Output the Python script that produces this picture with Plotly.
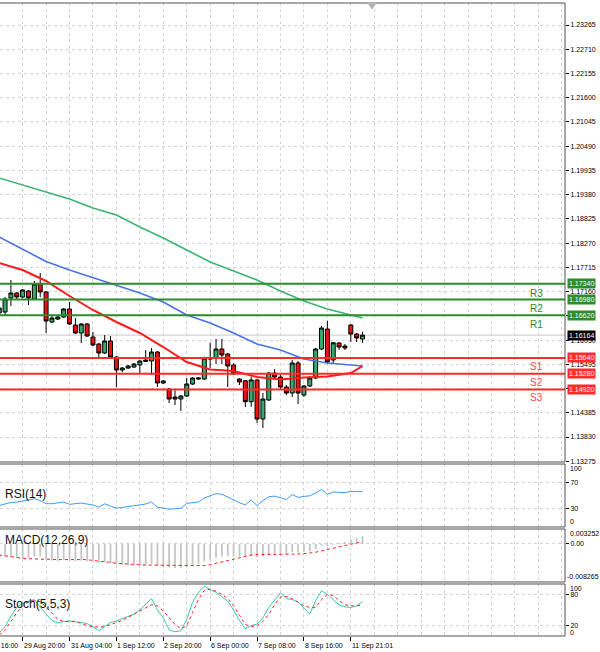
import plotly.graph_objects as go

# ---------------- data ----------------
idx = list(range(63))
opens = [1.16670, 1.16693, 1.17013, 1.17128, 1.17036, 1.17174, 1.16990, 1.17334, 1.17151, 1.16464,
         1.16532, 1.16578, 1.16761, 1.16395, 1.16212, 1.16418, 1.16120, 1.15960, 1.15754, 1.16029,
         1.15662, 1.15365, 1.15410, 1.15433, 1.15479, 1.15560, 1.15571, 1.15777, 1.15067, 1.14929,
         1.14746, 1.14700, 1.14769, 1.15044, 1.15158, 1.15158, 1.15616, 1.15639, 1.15845, 1.15731,
         1.15479, 1.15158, 1.15120, 1.14639, 1.15136, 1.14242, 1.14678, 1.15296, 1.15204, 1.14975,
         1.14838, 1.15525, 1.14792, 1.14998, 1.15181, 1.15845, 1.16303, 1.15594, 1.15983, 1.15914,
         1.16395, 1.16189, 1.16074]
highs = [1.16968, 1.17036, 1.17426, 1.17151, 1.17219, 1.17197, 1.17403, 1.17586, 1.17174, 1.16601,
         1.16601, 1.16784, 1.16922, 1.16555, 1.16441, 1.16441, 1.16235, 1.15983, 1.16166, 1.16143,
         1.15685, 1.15433, 1.15479, 1.15525, 1.15594, 1.15823, 1.15868, 1.15800, 1.15136, 1.14952,
         1.14907, 1.14792, 1.15181, 1.15204, 1.15204, 1.15669, 1.15990, 1.16074, 1.16074, 1.15754,
         1.15525, 1.15181, 1.15136, 1.15211, 1.15158, 1.14838, 1.15319, 1.15387, 1.15250, 1.15021,
         1.15594, 1.15571, 1.15021, 1.15227, 1.15868, 1.16372, 1.16495, 1.16006, 1.16006, 1.15960,
         1.16418, 1.16212, 1.16242]
lows = [1.16555, 1.16624, 1.16830, 1.16990, 1.17013, 1.16853, 1.16968, 1.17036, 1.16212, 1.16441,
        1.16510, 1.16555, 1.16395, 1.16189, 1.15983, 1.16120, 1.15914, 1.15662, 1.15731, 1.15639,
        1.14975, 1.15319, 1.15387, 1.15410, 1.15296, 1.15548, 1.15250, 1.14975, 1.15044, 1.14609,
        1.14563, 1.14426, 1.14746, 1.15021, 1.15136, 1.15136, 1.15410, 1.15502, 1.15502, 1.14975,
        1.15250, 1.15021, 1.14517, 1.14524, 1.14151, 1.14036, 1.14655, 1.15158, 1.14907, 1.14792,
        1.14746, 1.14586, 1.14746, 1.14975, 1.15158, 1.15823, 1.15502, 1.15502, 1.15823, 1.15823,
        1.16006, 1.16006, 1.15983]
closes = [1.16784, 1.16990, 1.17128, 1.17036, 1.17197, 1.17013, 1.17334, 1.17151, 1.16487, 1.16555,
          1.16578, 1.16761, 1.16418, 1.16212, 1.16418, 1.16143, 1.15937, 1.15754, 1.16029, 1.15662,
          1.15365, 1.15410, 1.15456, 1.15502, 1.15571, 1.15594, 1.15777, 1.15067, 1.15113, 1.14700,
          1.14700, 1.14769, 1.15044, 1.15181, 1.15181, 1.15639, 1.15639, 1.15845, 1.15708, 1.15456,
          1.15273, 1.15090, 1.14639, 1.15136, 1.14242, 1.14700, 1.15296, 1.15204, 1.14975, 1.14838,
          1.15525, 1.14838, 1.14998, 1.15181, 1.15845, 1.16326, 1.15548, 1.15989, 1.15891, 1.15868,
          1.16189, 1.16097, 1.16164]

ma_idx = [0, 4, 8, 12, 16, 20, 24, 28, 32, 36, 40, 44, 48, 52, 56, 60, 62]
ma_slow = [1.19761, 1.19601, 1.19452, 1.19280, 1.19074, 1.18914, 1.18639, 1.18387, 1.18113,
           1.17838, 1.17632, 1.17426, 1.17174, 1.16945, 1.16761, 1.16624, 1.16555]
ma_mid = [1.18410, 1.18135, 1.17849, 1.17655, 1.17483, 1.17311, 1.17128, 1.16922, 1.16624,
          1.16441, 1.16212, 1.15960, 1.15823, 1.15616, 1.15525, 1.15479, 1.15456]
ma_fast = [1.17815, 1.17655, 1.17403, 1.17059, 1.16739, 1.16464, 1.16212, 1.15891, 1.15548,
           1.15376, 1.15342, 1.15204, 1.15147, 1.15193, 1.15216, 1.15296, 1.15456]

rsi = [34, 37, 39, 39.5, 41, 43, 45, 42, 37, 37, 38, 39.7, 36, 37, 38, 36.5, 35, 31.5, 36.9, 33,
       30, 31, 32.5, 33.5, 34.5, 36.5, 39.7, 31.5, 30, 28.3, 29, 29.6, 37.5, 38.8, 39.6, 46, 50, 53,
       52, 47.5, 42.6, 38.5, 35, 43, 34, 42, 48, 49, 46.5, 43.5, 51.5, 47, 48.5, 49.5, 54, 59.5, 52,
       55.5, 55, 54.5, 56.5, 56.5, 56]

macd_main = [-0.0025, -0.0028, -0.0030, -0.0031, -0.0031, -0.0030, -0.0027, -0.0027, -0.0033, -0.0036,
             -0.0037, -0.0035, -0.0036, -0.0037, -0.0036, -0.0037, -0.0038, -0.0041, -0.0040, -0.0042,
             -0.0045, -0.0046, -0.0047, -0.0047, -0.0046, -0.0046, -0.0044, -0.0048, -0.0050, -0.0051,
             -0.0052, -0.0052, -0.0050, -0.0046, -0.0043, -0.0038, -0.0034, -0.0030, -0.0027, -0.0027,
             -0.0027, -0.0027, -0.0028, -0.0027, -0.0029, -0.0027, -0.0023, -0.0021, -0.0021, -0.0022,
             -0.0018, -0.0019, -0.0018, -0.0016, -0.0011, -0.0004, -0.0005, -0.0002, 0.0002, 0.0004,
             0.0010, 0.0013, 0.0017]
macd_signal = [-0.0024, -0.0026, -0.0028, -0.0030, -0.0031, -0.0032, -0.0033, -0.0033, -0.0033, -0.0034,
               -0.0034, -0.0034, -0.0034, -0.0034, -0.0034, -0.0034, -0.0036, -0.0037, -0.0039, -0.0040,
               -0.0042, -0.0043, -0.0044, -0.0045, -0.0045, -0.0046, -0.0046, -0.0046, -0.0047, -0.0047,
               -0.0047, -0.0047, -0.0047, -0.0047, -0.0047, -0.0047, -0.0045, -0.0042, -0.0039, -0.0036,
               -0.0032, -0.0029, -0.0026, -0.0024, -0.0023, -0.0023, -0.0023, -0.0022, -0.0022, -0.0022,
               -0.0022, -0.0022, -0.0021, -0.0020, -0.0018, -0.0015, -0.0012, -0.0009, -0.0006, -0.0003,
               0.0000, 0.0003, 0.0005]
macd_max = 0.003252
macd_min = -0.008265

stoch_k = [6, 18, 38, 55, 63, 67, 70, 55, 42, 30, 25, 28, 29, 28, 26, 24, 18, 10, 18, 26,
           29, 33, 38, 42, 50, 62, 72, 50, 35, 12, 8, 10, 32, 65, 84, 96, 89, 84, 76, 67,
           50, 30, 14, 20, 23, 35, 55, 70, 83, 72, 70, 65, 54, 42, 68, 87, 80, 70, 60, 56,
           55, 58, 66]
stoch_d = [2, 12, 28, 45, 58, 66, 68, 66, 56, 44, 32, 28, 28, 28, 24, 20, 18, 17, 18, 22,
           25, 30, 36, 42, 48, 54, 60, 58, 48, 35, 22, 14, 20, 45, 70, 88, 90, 86, 80, 72,
           58, 40, 22, 18, 20, 28, 42, 60, 75, 76, 72, 65, 58, 55, 55, 70, 80, 78, 68, 60,
           58, 58, 60]

price_ticks = [1.13275, 1.13830, 1.14385, 1.14940, 1.15495, 1.16050, 1.16605, 1.17160, 1.17715,
               1.18270, 1.18825, 1.19380, 1.19935, 1.20490, 1.21045, 1.21600, 1.22155, 1.22710, 1.23265]
price_tick_text = ["1.13275", "1.13830", "1.14385", "", "1.15495", "1.16050", "", "1.17160", "1.17715",
                   "1.18270", "1.18825", "1.19380", "1.19935", "1.20490", "1.21045", "1.21600", "1.22155",
                   "1.22710", "1.23265"]

level_names = ["R3", "R2", "R1", "S1", "S2", "S3"]
level_values = [1.17340, 1.16980, 1.16620, 1.15640, 1.15280, 1.14920]
last_price = 1.16164

time_idx = [-4, 4, 12, 20, 28, 36, 44, 52, 60]
time_labels = ["28 Aug 16:00", "29 Aug 20:00", "31 Aug 04:00", "1 Sep 12:00", "2 Sep 20:00",
               "6 Sep 00:00", "7 Sep 08:00", "8 Sep 16:00", "11 Sep 21:01"]

# ---------------- style ----------------
FONT = "Liberation Sans, Arial, sans-serif"
GRID = "#d4d4d4"
R_COL = "#2a8c2a"
S_COL = "#ff2a2a"
BULL = "#3aa86a"
BEAR = "#ee1111"

# panel domains (paper fractions)
D_MAIN = [0.27488, 1.0]
D_RSI = [0.17220, 0.27172]
D_MACD = [0.08531, 0.16904]
D_STO = [0.0, 0.08215]
XR = [0.137, 96.55]

fig = go.Figure()

fig.add_trace(go.Candlestick(
    x=idx, open=opens, high=highs, low=lows, close=closes, xaxis="x", yaxis="y",
    increasing=dict(line=dict(color="#000000", width=1), fillcolor=BULL),
    decreasing=dict(line=dict(color="#000000", width=1), fillcolor=BEAR),
    whiskerwidth=0, hoverinfo="skip", showlegend=False))

for vals, col, w in [(ma_slow, "#3cb371", 1.6), (ma_mid, "#4a72e8", 1.6), (ma_fast, "#ff1a1a", 2)]:
    fig.add_trace(go.Scatter(x=ma_idx, y=vals, mode="lines", xaxis="x", yaxis="y",
                             line=dict(color=col, width=w), hoverinfo="skip", showlegend=False))

fig.add_trace(go.Scatter(x=idx, y=rsi, mode="lines", xaxis="x2", yaxis="y2",
                         line=dict(color="#3d9bff", width=1), hoverinfo="skip", showlegend=False))

fig.add_trace(go.Bar(x=idx, y=macd_main, xaxis="x3", yaxis="y3", width=0.3,
                     marker=dict(color="#c4c4c4", line=dict(width=0)), hoverinfo="skip", showlegend=False))
fig.add_trace(go.Scatter(x=idx, y=macd_signal, mode="lines", xaxis="x3", yaxis="y3",
                         line=dict(color="#ff2020", width=1, dash="dot"), hoverinfo="skip", showlegend=False))

fig.add_trace(go.Scatter(x=idx, y=stoch_k, mode="lines", xaxis="x4", yaxis="y4",
                         line=dict(color="#3cc8b4", width=1), hoverinfo="skip", showlegend=False))
fig.add_trace(go.Scatter(x=idx, y=stoch_d, mode="lines", xaxis="x4", yaxis="y4",
                         line=dict(color="#ff2020", width=1, dash="dot"), hoverinfo="skip", showlegend=False))

grid_x = dict(range=XR, showgrid=True, gridcolor=GRID, griddash="dot", gridwidth=1,
              tickmode="linear", tick0=0, dtick=4, showticklabels=False, ticks="",
              zeroline=False, showline=False, fixedrange=True)

axis_font = dict(family=FONT, size=7, color="#000000")
yax_common = dict(side="right", ticks="outside", ticklen=3, tickcolor="#000000", tickfont=axis_font,
                  showgrid=True, gridcolor=GRID, griddash="dot", gridwidth=1, zeroline=False,
                  showline=False, fixedrange=True, tickmode="array")

fig.update_layout(
    width=600, height=652,
    margin=dict(l=0, r=35, t=3, b=16),
    paper_bgcolor="#ffffff", plot_bgcolor="#ffffff",
    font=dict(family=FONT, size=8, color="#000000"),
    boxgap=0.2, boxgroupgap=0.15, barmode="overlay",
    showlegend=False,
    xaxis=dict(grid_x, domain=[0, 1], anchor="y", rangeslider=dict(visible=False)),
    xaxis2=dict(grid_x, domain=[0, 1], anchor="y2", matches="x"),
    xaxis3=dict(grid_x, domain=[0, 1], anchor="y3", matches="x"),
    xaxis4=dict(range=XR, domain=[0, 1], anchor="y4", matches="x", tickmode="array",
                tickvals=time_idx[1:], ticks="outside", ticklen=4, tickcolor="#000000",
                showticklabels=False, showgrid=True, gridcolor=GRID, griddash="dot", gridwidth=1,
                minor=dict(tickmode="linear", tick0=0, dtick=4, showgrid=True, gridcolor=GRID,
                           griddash="dot", gridwidth=1, ticks=""),
                zeroline=False, showline=False, fixedrange=True),
    yaxis=dict(yax_common, domain=D_MAIN, anchor="x", range=[1.13258, 1.23769],
               tickvals=price_ticks, ticktext=price_tick_text),
    yaxis2=dict(yax_common, domain=D_RSI, anchor="x2", range=[0, 100],
                tickvals=[30, 70], ticktext=["30", "70"]),
    yaxis3=dict(yax_common, domain=D_MACD, anchor="x3", range=[macd_min, macd_max],
                tickvals=[0], ticktext=["0.00"]),
    yaxis4=dict(yax_common, domain=D_STO, anchor="x4", range=[0, 100],
                tickvals=[20, 80], ticktext=["20", "80"]),
)

shapes = []
# current price line
shapes.append(dict(type="line", xref="paper", x0=0, x1=1, yref="y", y0=last_price, y1=last_price,
                   line=dict(color="#c8c8c8", width=1), layer="below"))
# support / resistance lines
for name, val in zip(level_names, level_values):
    col = R_COL if name.startswith("R") else S_COL
    shapes.append(dict(type="line", xref="paper", x0=0, x1=1, yref="y", y0=val, y1=val,
                       line=dict(color=col, width=2)))
# panel borders (top, right, bottom)
for d in (D_MAIN, D_RSI, D_MACD, D_STO):
    shapes.append(dict(type="path", xref="paper", yref="paper",
                       path=f"M 0,{d[1]} L 1,{d[1]} L 1,{d[0]} L 0,{d[0]}",
                       line=dict(color="#505050", width=1)))
# shift marker at top
shapes.append(dict(type="path", xref="paper", yref="paper",
                   path="M 0.6513,1.0 L 0.6655,1.0 L 0.6584,0.9905 Z",
                   fillcolor="#b4b4b4", line=dict(color="#b4b4b4", width=1)))
fig.update_layout(shapes=shapes)

ann = []
# price boxes on the right axis
for name, val in zip(level_names, level_values):
    col = R_COL if name.startswith("R") else S_COL
    ann.append(dict(x=1, xref="paper", xanchor="left", xshift=2, y=val, yref="y", yanchor="middle",
                    text=f"{val:.5f}", showarrow=False, bgcolor=col, borderpad=1,
                    font=dict(family=FONT, size=7, color="#ffffff")))
    ann.append(dict(x=0.949, xref="paper", xanchor="center", y=val, yref="y", yanchor="top",
                    yshift=-1 if name.startswith("S") else -2,
                    text=name, showarrow=False,
                    font=dict(family=FONT, size=10, color=col if name.startswith("R") else "#ff4a4a")))
ann.append(dict(x=1, xref="paper", xanchor="left", xshift=2, y=last_price, yref="y", yanchor="middle",
                text=f"{last_price:.5f}", showarrow=False, bgcolor="#000000", borderpad=1,
                font=dict(family=FONT, size=7, color="#ffffff")))

# scale end labels of the indicator panels
for yref, top_val, top_txt, bot_val, bot_txt in [("y2", 100, "100", 0, "0"),
                                                  ("y3", macd_max, f"{macd_max:.6f}", macd_min, f"{macd_min:.6f}"),
                                                  ("y4", 100, "100", 0, "0")]:
    ann.append(dict(x=1, xref="paper", xanchor="left", xshift=3, y=top_val, yref=yref, yanchor="top",
                    yshift=1, text=top_txt, showarrow=False, font=axis_font))
    ann.append(dict(x=1, xref="paper", xanchor="left", xshift=0 if bot_txt.startswith("-") else 3,
                    y=bot_val, yref=yref, yanchor="bottom", yshift=-2 if yref == "y4" else 0,
                    text=bot_txt, showarrow=False, font=axis_font))

# indicator names
for txt, yp in [("RSI(14)", 0.2246), ("MACD(12,26,9)", 0.1523), ("Stoch(5,5,3)", 0.0498)]:
    ann.append(dict(x=0.006, xref="paper", xanchor="left", y=yp, yref="paper", yanchor="middle",
                    text=txt, showarrow=False, font=dict(family=FONT, size=12, color="#111111")))

# time labels (left-aligned at their tick); positions mapped through the x range
for ti, tl in zip(time_idx, time_labels):
    xp = (ti - XR[0]) / (XR[1] - XR[0])
    ann.append(dict(x=xp, xref="paper", xanchor="left", xshift=-1, y=0, yref="paper", yanchor="top",
                    yshift=-4, text=tl, showarrow=False, font=axis_font))

fig.update_layout(annotations=ann)

fig.write_html("out.html",
               config={"displayModeBar": False, "staticPlot": True},
               post_script="document.body.style.margin='0';document.body.style.padding='0';"
                           "document.body.style.overflow='hidden';")
